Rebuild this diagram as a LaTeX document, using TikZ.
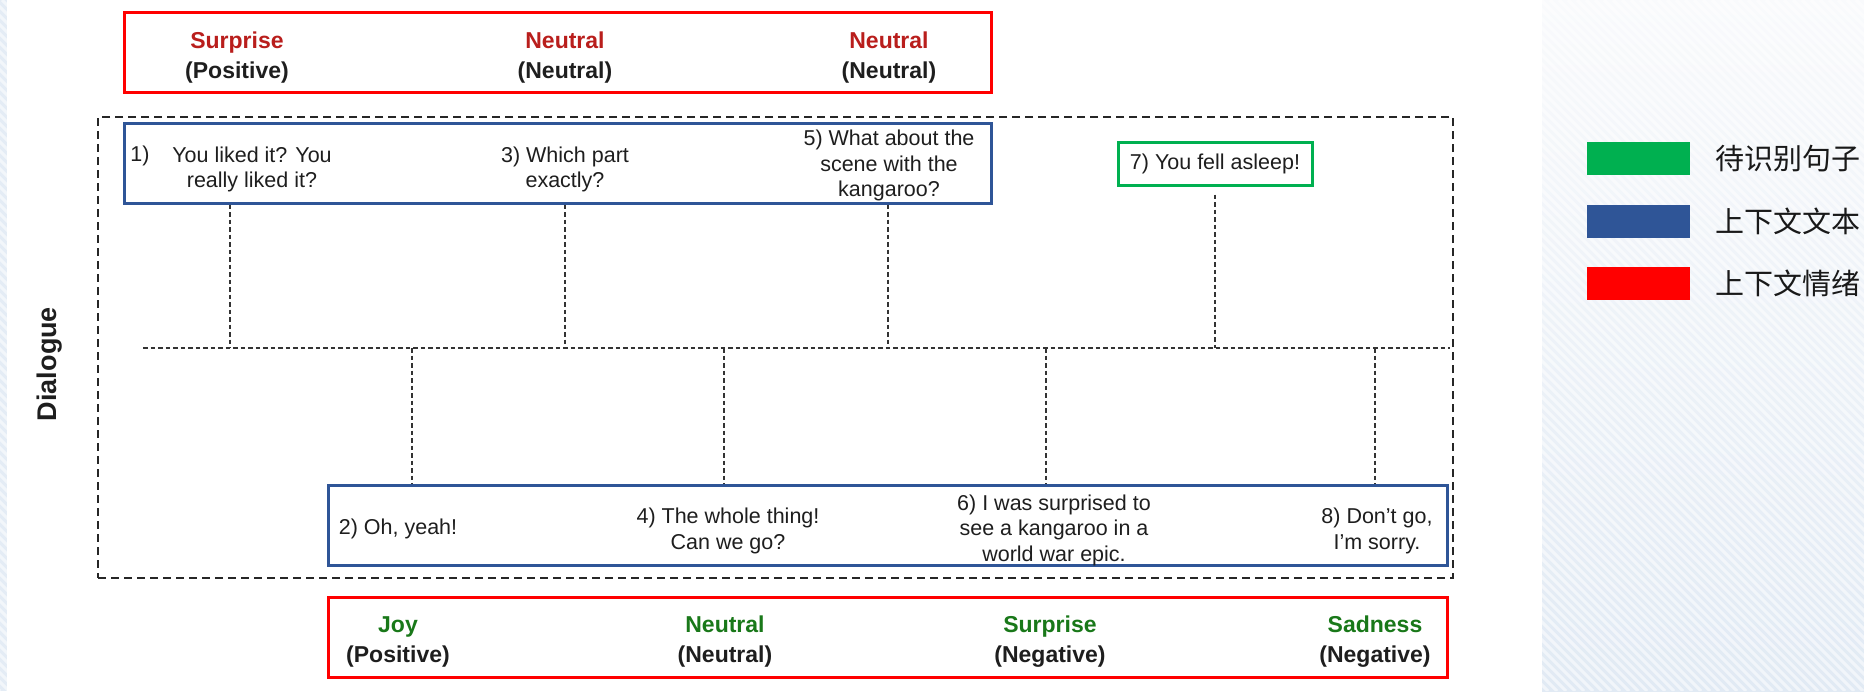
\documentclass[tikz,border=0pt]{standalone}
\usepackage{fontspec}
\setmainfont{Liberation Sans}
\newfontfamily\cjk{Noto Sans CJK SC}
\definecolor{ctxblue}{RGB}{47,85,151}
\definecolor{tgtgreen}{RGB}{0,176,80}
\definecolor{emored}{RGB}{185,30,28}
\definecolor{emogreen}{RGB}{25,120,25}
\definecolor{txt}{RGB}{30,30,30}
\definecolor{paneltop}{RGB}{249,250,252}
\definecolor{panelbot}{RGB}{225,234,244}
\definecolor{stripbg}{RGB}{228,236,245}
\tikzset{
  emo/.style={font=\bfseries\fontsize{23}{30}\selectfont, align=center, inner sep=0, text=txt},
  utt/.style={font=\fontsize{21.5}{25.5}\selectfont, align=center, inner sep=0, text=txt},
  redbox/.style={draw=red, line width=3, inner sep=0},
  bluebox/.style={draw=ctxblue, line width=3, inner sep=0},
  greenbox/.style={draw=tgtgreen, line width=3, inner sep=0},
  outer/.style={draw=black!85, line width=1.8, dash pattern=on 8pt off 5pt, inner sep=0},
  conn/.style={draw=black!80, line width=1.2, dash pattern=on 4.5pt off 3pt},
  legbar/.style={minimum width=103, minimum height=33, inner sep=0},
  legtext/.style={anchor=west, inner sep=0, font=\cjk\fontsize{29}{32}\selectfont, text=black!90}
}
\begin{document}
\begin{tikzpicture}[x=1pt,y=-1pt]
\useasboundingbox (0,0) rectangle (1864,691);
\fill[white] (0,0) rectangle (1864,691);

% striped backgrounds: thin strip on the left, legend panel on the right
\fill[stripbg] (0,0) rectangle (7,691);
\shade[top color=paneltop, bottom color=panelbot] (1542,0) rectangle (1864,691);
\begin{scope}
  \clip (0,0) rectangle (7,691) (1542,0) rectangle (1864,691);
  \foreach \k in {-700,-691,...,1870}
    \draw[white, opacity=.55, line width=3] (\k,0) -- ++(691,691);
\end{scope}

% frames
\node[outer, minimum width=1355, minimum height=461] (dlgbox) at (775.5,347.5) {};
\node[redbox, minimum width=867, minimum height=80] (emoTop) at (557.5,52) {};
\node[bluebox, minimum width=867, minimum height=80] (ctxTop) at (557.5,163) {};
\node[bluebox, minimum width=1119, minimum height=80] (ctxBot) at (887.5,525) {};
\node[redbox, minimum width=1119, minimum height=80] (emoBot) at (887.5,637) {};

\node[rotate=90, inner sep=0, font=\bfseries\fontsize{27}{30}\selectfont, text=txt] (dlg) at (50,364) {Dialogue};

% emotions of the context utterances (top)
\node[emo] (e1) at (237,57.5) {{\color{emored}Surprise}\\(Positive)};
\node[emo] (e3) at (565,57.5) {{\color{emored}Neutral}\\(Neutral)};
\node[emo] (e5) at (889,57.5) {{\color{emored}Neutral}\\(Neutral)};

% speaker A utterances
\node[utt] (n1) at (140,155.5) {1)};
\node[utt] (u1) at (252,169.5) {You liked it? You\\really liked it?};
\node[utt] (u3) at (565,169.5) {3) Which part\\exactly?};
\node[utt] (u5) at (889,165.5) {5) What about the\\scene with the\\kangaroo?};
\node[greenbox, utt, minimum width=194, minimum height=43] (u7) at (1215,163.5) {7) You fell asleep!};

% speaker B utterances
\node[utt] (u2) at (398,528.5) {2) Oh, yeah!};
\node[utt] (u4) at (728,531) {4) The whole thing!\\Can we go?};
\node[utt] (u6) at (1054,530) {6) I was surprised to\\see a kangaroo in a\\world war epic.};
\node[utt] (u8) at (1377,531) {8) Don’t go,\\I’m sorry.};

% emotions of the context utterances (bottom)
\node[emo] (b2) at (398,641.5) {{\color{emogreen}Joy}\\(Positive)};
\node[emo] (b4) at (725,641.5) {{\color{emogreen}Neutral}\\(Neutral)};
\node[emo] (b6) at (1050,641.5) {{\color{emogreen}Surprise}\\(Negative)};
\node[emo] (b8) at (1375,641.5) {{\color{emogreen}Sadness}\\(Negative)};

% turn-taking connectors
\coordinate (busL) at (143,348);
\coordinate (busR) at (1450,348);
\draw[conn] (busL) -- (busR);
\foreach \x/\n in {230/a1,565/a3,888/a5} {
  \coordinate (\n) at (\x,348);
  \draw[conn] (\n |- ctxTop.south) -- (\n);
}
\draw[conn] ([yshift=-8pt]u7.south) -- (u7.south |- busL);
\foreach \x/\n in {412/a2,724/a4,1046/a6,1375/a8} {
  \coordinate (\n) at (\x,348);
  \draw[conn] (\n) -- (\n |- ctxBot.north);
}

% legend
\node[legbar, fill=tgtgreen] (lg1) at (1638.5,158.5) {};
\node[legbar, fill=ctxblue] (lg2) at (1638.5,221.5) {};
\node[legbar, fill=red] (lg3) at (1638.5,283) {};
\node[legtext] (lt1) at (1715,158.5) {待识别句子};
\node[legtext] (lt2) at (1715,221.5) {上下文文本};
\node[legtext] (lt3) at (1715,283) {上下文情绪};
\end{tikzpicture}
\end{document}
